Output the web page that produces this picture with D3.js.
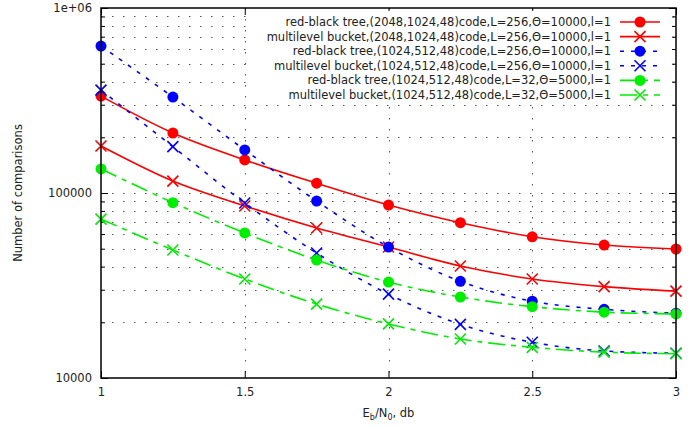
<!DOCTYPE html>
<html>
<head>
<meta charset="utf-8">
<script src="https://cdn.jsdelivr.net/npm/d3@7"></script>
<style>
  body { margin: 0; background: #fff; }
  svg { font-family: "DejaVu Sans", sans-serif; }
</style>
</head>
<body>
<svg id="chart" width="696" height="428"></svg>
<script>
// SNR points (Eb/N0, db)
var ebn0 = [1, 1.25, 1.5, 1.75, 2, 2.25, 2.5, 2.75, 3];

// number of comparisons
var rbt2048 = [334000, 211000, 151000, 113000, 86100, 69100, 58000, 52300, 49800];
var mlb2048 = [179500, 116000, 85100, 64700, 51100, 40300, 34300, 31200, 29500];
var rbt1024 = [623000, 330000, 171000, 90500, 51000, 33300, 26000, 23500, 22400];
var mlb1024 = [360000, 178000, 88300, 47400, 28400, 19500, 15600, 14000, 13600];
var rbt1024s = [135000, 88700, 60800, 43400, 33000, 27400, 24300, 22700, 22200];
var mlb1024s = [72300, 49200, 34300, 25100, 19600, 16250, 14650, 13800, 13530];

var names = [
    "red-black tree,(2048,1024,48)code,L=256,\u0398=10000,l=1",
    "multilevel bucket,(2048,1024,48)code,L=256,\u0398=10000,l=1",
    "red-black tree,(1024,512,48)code,L=256,\u0398=10000,l=1",
    "multilevel bucket,(1024,512,48)code,L=256,\u0398=10000,l=1",
    "red-black tree,(1024,512,48)code,L=32,\u0398=5000,l=1",
    "multilevel bucket,(1024,512,48)code,L=32,\u0398=5000,l=1"
];
var colors = ["#ff0000", "#ff0000", "#0000ff", "#0000ff", "#00ee00", "#00ee00"];
var dashes = [null, null, "4,7", "4,7", "17,6,5,6", "17,6,5,6"];
var markers = ["circle", "cross", "circle", "cross", "circle", "cross"];
var allSeries = [rbt2048, mlb2048, rbt1024, mlb1024, rbt1024s, mlb1024s];

var xTicks = [1, 1.5, 2, 2.5, 3];
var yTicks = [10000, 100000, 1000000];
var yTickLabels = ["10000", "100000", "1e+06"];

var svg = d3.select("#chart");
var padL = 101, padR = 676, padT = 8, padB = 378;

var x = d3.scaleLinear().domain([1, 3]).range([padL, padR]);
var y = d3.scaleLog().domain([10000, 1000000]).range([padB, padT]);

var minorY = [];
[10000, 100000].forEach(function (d) {
    for (var k = 2; k <= 9; k++) minorY.push(d * k);
});

// grid
var grid = svg.append("g").attr("stroke", "#555").attr("stroke-width", 1)
    .attr("stroke-dasharray", "1.5,9.5");
minorY.concat([100000]).forEach(function (v) {
    grid.append("line").attr("x1", padL).attr("x2", padR)
        .attr("y1", Math.round(y(v)) + 0.5).attr("y2", Math.round(y(v)) + 0.5);
});
[1.5, 2, 2.5].forEach(function (v) {
    grid.append("line").attr("y1", padT).attr("y2", padB)
        .attr("x1", Math.round(x(v)) + 0.5).attr("x2", Math.round(x(v)) + 0.5);
});

// axes with inward ticks
function styleAxis(g) {
    g.select(".domain").remove();
    g.selectAll("line").attr("stroke", "#000");
    g.selectAll("text").attr("font-size", 11.5).attr("fill", "#222")
        .attr("font-family", "DejaVu Sans, sans-serif");
}
svg.append("g").attr("transform", "translate(" + padL + ",0)")
    .call(d3.axisLeft(y).tickValues(yTicks).tickSize(-7).tickPadding(9)
        .tickFormat(function (d, i) { return yTickLabels[i]; }))
    .call(styleAxis);
svg.append("g").attr("transform", "translate(" + padL + ",0)")
    .call(d3.axisLeft(y).tickValues(minorY).tickSize(-4).tickFormat(""))
    .call(styleAxis);
svg.append("g").attr("transform", "translate(" + padR + ",0)")
    .call(d3.axisRight(y).tickValues(yTicks).tickSize(-7).tickFormat(""))
    .call(styleAxis);
svg.append("g").attr("transform", "translate(" + padR + ",0)")
    .call(d3.axisRight(y).tickValues(minorY).tickSize(-4).tickFormat(""))
    .call(styleAxis);
svg.append("g").attr("transform", "translate(0," + padB + ")")
    .call(d3.axisBottom(x).tickValues(xTicks).tickSize(-7).tickPadding(10)
        .tickFormat(d3.format("")))
    .call(styleAxis);
svg.append("g").attr("transform", "translate(0," + padT + ")")
    .call(d3.axisTop(x).tickValues(xTicks).tickSize(-7).tickFormat(""))
    .call(styleAxis);

// series
var line = d3.line()
    .x(function (d, i) { return x(ebn0[i]); })
    .y(function (d) { return y(d); })
    .curve(d3.curveMonotoneX);

function drawMarker(g, kind, cx, cy, color) {
    if (kind == "circle") {
        g.append("circle").attr("cx", cx).attr("cy", cy).attr("r", 5.5).attr("fill", color);
    } else {
        var s = 5.5;
        g.append("path")
            .attr("d", "M" + (cx - s) + "," + (cy - s) + "L" + (cx + s) + "," + (cy + s) +
                "M" + (cx - s) + "," + (cy + s) + "L" + (cx + s) + "," + (cy - s))
            .attr("stroke", color).attr("stroke-width", 1.6).attr("fill", "none");
    }
}

allSeries.forEach(function (vals, s) {
    var g = svg.append("g");
    g.append("path").datum(vals)
        .attr("d", line)
        .attr("fill", "none")
        .attr("stroke", colors[s])
        .attr("stroke-width", 1.6)
        .attr("stroke-dasharray", dashes[s]);
    vals.forEach(function (v, i) {
        drawMarker(g, markers[s], x(ebn0[i]), y(v), colors[s]);
    });
});

// legend (opaque box)
var legend = svg.append("g");
legend.append("rect").attr("x", 250).attr("y", 11).attr("width", 416).attr("height", 92)
    .attr("fill", "#fff");
names.forEach(function (n, i) {
    var ly = 22 + i * 14.6;
    legend.append("text").attr("x", 611).attr("y", ly).attr("dy", "0.35em")
        .attr("text-anchor", "end").attr("font-size", 11.5).attr("fill", "#222").text(n);
    legend.append("line").attr("x1", 620).attr("x2", 660).attr("y1", ly).attr("y2", ly)
        .attr("stroke", colors[i]).attr("stroke-width", 1.6)
        .attr("stroke-dasharray", dashes[i]);
    drawMarker(legend, markers[i], 640, ly, colors[i]);
});

// border
svg.append("rect").attr("x", padL).attr("y", padT)
    .attr("width", padR - padL).attr("height", padB - padT)
    .attr("fill", "none").attr("stroke", "#000").attr("stroke-width", 1.5);

// axis titles
var xl = svg.append("text").attr("x", (padL + padR) / 2).attr("y", 417)
    .attr("text-anchor", "middle").attr("font-size", 11.5).attr("fill", "#222");
xl.append("tspan").text("E");
xl.append("tspan").attr("font-size", 8).attr("dy", 3).text("b");
xl.append("tspan").attr("dy", -3).text("/N");
xl.append("tspan").attr("font-size", 8).attr("dy", 3).text("0");
xl.append("tspan").attr("dy", -3).text(", db");

svg.append("text")
    .attr("transform", "translate(22," + ((padT + padB) / 2) + ") rotate(-90)")
    .attr("text-anchor", "middle").attr("font-size", 11.5).attr("fill", "#222")
    .text("Number of comparisons");
</script>
</body>
</html>
